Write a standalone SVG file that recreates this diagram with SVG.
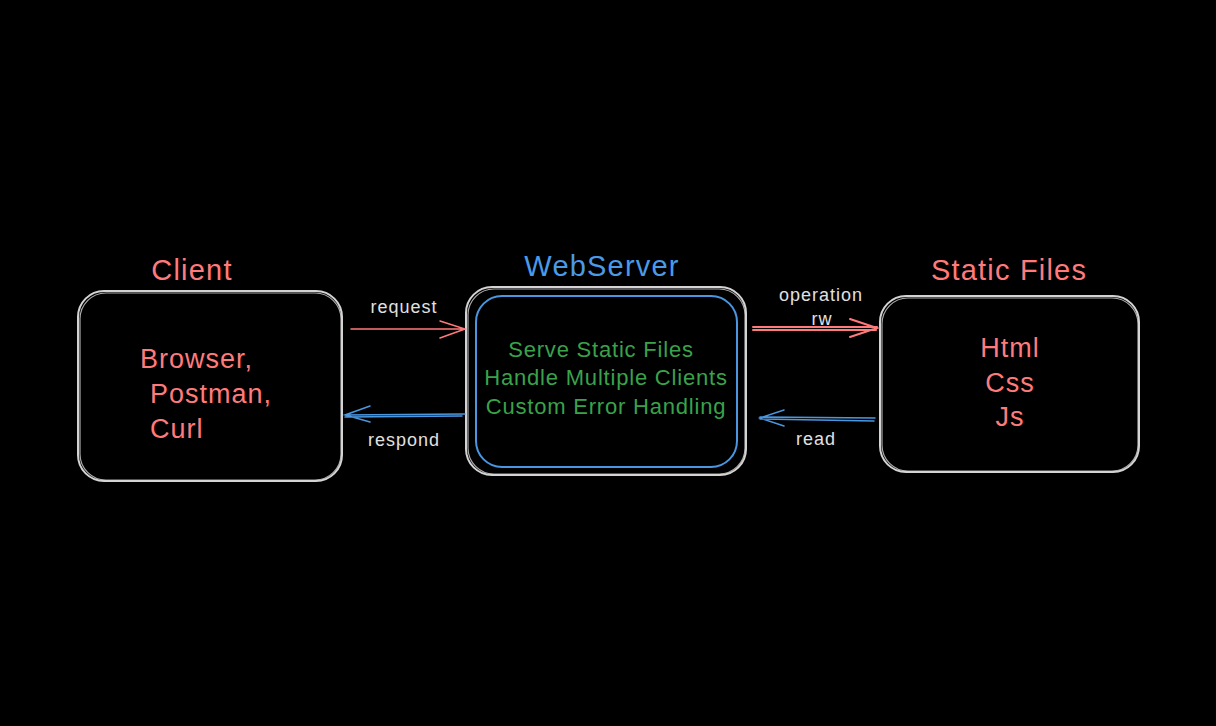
<svg xmlns="http://www.w3.org/2000/svg" width="1216" height="726" viewBox="0 0 1216 726">
<defs>
<style>
.box{fill:#000;stroke:#d4d4d4;stroke-width:2}
.box2{fill:none;stroke:#d4d4d4;stroke-width:1.2;opacity:.8}
.inner{fill:none;stroke:#4a97e0;stroke-width:2}
.t{font-family:"Liberation Sans",Arial,sans-serif}
.title{font-size:29px;letter-spacing:1.2px}
.red{fill:#ff7b7b}
.blue{fill:#4a9ae8}
.green{fill:#3aa24a;font-size:22px;letter-spacing:0.8px}
.lbl{fill:#e0e0e0;font-size:18px;letter-spacing:1px}
.body{font-size:27px;letter-spacing:1px}
.ar{fill:none;stroke:#ff7b7b;stroke-width:1.5;stroke-linecap:round}
.ab{fill:none;stroke:#4a97e0;stroke-width:1.5;stroke-linecap:round}
</style>
</defs>
<rect width="1216" height="726" fill="#000"/>
<g id="client">
<rect class="box" x="78" y="291" width="264" height="190" rx="26"/>
<rect class="box2" x="80" y="293" width="261" height="187" rx="26"/>
<text class="t title red" x="192" y="280" text-anchor="middle">Client</text>
<text class="t body red" x="140" y="368">Browser,</text>
<text class="t body red" x="150" y="403">Postman,</text>
<text class="t body red" x="150" y="438">Curl</text>
</g>
<g id="webserver">
<rect class="box" x="466" y="287" width="280" height="188" rx="26"/>
<rect class="box2" x="468" y="289" width="277" height="185" rx="26"/>
<rect class="inner" x="476" y="296" width="261" height="171" rx="26"/>
<text class="t title blue" x="602" y="276" text-anchor="middle">WebServer</text>
<text class="t green" x="601" y="357" text-anchor="middle">Serve Static Files</text>
<text class="t green" x="606" y="385" text-anchor="middle">Handle Multiple Clients</text>
<text class="t green" x="606" y="414" text-anchor="middle">Custom Error Handling</text>
</g>
<g id="staticfiles">
<rect class="box" x="880" y="296" width="259" height="176" rx="26"/>
<rect class="box2" x="882" y="298" width="256" height="173" rx="26"/>
<text class="t title red" x="1009" y="280" text-anchor="middle">Static Files</text>
<text class="t body red" x="1010" y="357" text-anchor="middle">Html</text>
<text class="t body red" x="1010" y="392" text-anchor="middle">Css</text>
<text class="t body red" x="1010" y="426" text-anchor="middle">Js</text>
</g>
<g id="connectors">
<path class="ar" d="M351 329 L465 329 M440 321 L465 329 L440 338"/>
<text class="t lbl" x="404" y="313" text-anchor="middle">request</text>
<path class="ab" d="M465 414 L345 415 M345 417 L462 416 M370 406 L345 415 L370 422"/>
<text class="t lbl" x="404" y="446" text-anchor="middle">respond</text>
<path class="ar" d="M753 327 L877 327 M753 330 L876 330 M850 319 L877 328 L850 337" style="stroke-width:2"/>
<text class="t lbl" x="821" y="301" text-anchor="middle">operation</text>
<text class="t lbl" x="822" y="325" text-anchor="middle">rw</text>
<path class="ab" d="M875 418 L760 417 M760 419 L874 421 M784 410 L760 418 L784 426"/>
<text class="t lbl" x="816" y="445" text-anchor="middle">read</text>
</g>
</svg>
